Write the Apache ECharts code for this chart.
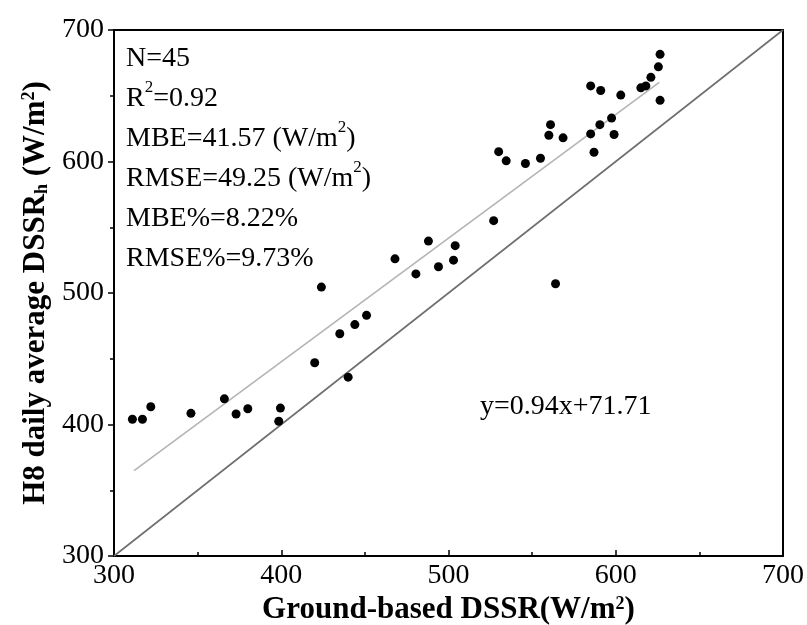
<!DOCTYPE html>
<html>
<head>
<meta charset="utf-8">
<script src="https://cdn.jsdelivr.net/npm/echarts@6/dist/echarts.min.js"></script>
<style>html,body{margin:0;padding:0;background:#fff;}#c{width:807px;height:625px;}</style>
</head>
<body>
<div id="c"></div>
<script>
var groundX = [311, 317, 322, 346, 366, 373, 380, 398.5, 399.5, 420, 424, 435, 440, 444, 451, 468, 480.5, 488, 494, 503, 504, 527, 530, 534.5, 546, 555, 561, 560, 564, 568.5, 585, 585, 587, 590.5, 591, 597.5, 599, 603, 615, 618, 621, 625.5, 626.5, 626.5];
var h8Y = [404, 404, 413.5, 408.5, 419.5, 408, 412, 402.5, 412.5, 447, 504.5, 469, 436, 476, 483, 526, 514.5, 539.5, 520, 525, 536, 555, 607.5, 600.5, 598.5, 602.5, 628, 620, 507, 618, 657.5, 621, 607, 628, 654, 633, 620.5, 650.5, 656, 657.5, 664, 672, 681.5, 646.5];
var fitSlope = 0.94, fitIntercept = 71.71;
var fitRange = [312, 626];
var oneToOne = [300, 700];
var axisTicks = [300, 400, 500, 600, 700];
var statsLines = ['N=45', 'R{sup|2}=0.92', 'MBE=41.57 (W/m{sup|2})', 'RMSE=49.25 (W/m{sup|2})', 'MBE%=8.22%', 'RMSE%=9.73%'];
var eqText = 'y=0.94x+71.71';

var pts = groundX.map(function (x, i) { return [x, h8Y[i]]; });
var fitData = fitRange.map(function (x) { return [x, fitSlope * x + fitIntercept]; });
var lineData = oneToOne.map(function (v) { return [v, v]; });

var FONT = '"Liberation Serif", "Times New Roman", serif';
var chart = echarts.init(document.getElementById('c'), null, {renderer: 'canvas'});

var TITLE = 31;
var axisCommon = {
  type: 'value', min: 300, max: 700, interval: 100,
  axisLine: {show: true, onZero: false, lineStyle: {color: '#000', width: 2}},
  splitLine: {show: false},
  axisLabel: {color: '#000', fontFamily: FONT, fontSize: 28},
  nameLocation: 'middle',
  nameTextStyle: {color: '#000', fontFamily: FONT, fontSize: TITLE, fontWeight: 'bold',
    rich: {
      sup: {fontSize: 18, fontWeight: 'bold', fontFamily: FONT, color: '#000', verticalAlign: 'top', padding: [0, 0, 10, 0]},
      sub: {fontSize: 18, fontWeight: 'bold', fontFamily: FONT, color: '#000', verticalAlign: 'bottom', padding: [8, 0, 0, 0]},
      b: {fontSize: TITLE, fontWeight: 'bold', fontFamily: FONT, color: '#000'}
    }
  }
};

var statsText = statsLines.join('\n');

chart.setOption({
  animation: false,
  backgroundColor: '#fff',
  grid: {left: 114, right: 24, top: 30, bottom: 69, show: false, containLabel: false, outerBoundsMode: 'none'},
  xAxis: [
    Object.assign({}, axisCommon, {
      position: 'bottom',
      name: '{b|Ground-based DSSR(W/m}{sup|2}{b|)}',
      nameGap: 37,
      axisTick: {show: true, inside: true, length: 6, lineStyle: {color: '#000', width: 1.5}},
      minorTick: {show: true, splitNumber: 2, length: 4, lineStyle: {color: '#000', width: 1.5}},
      axisLabel: {color: '#000', fontFamily: FONT, fontSize: 28, margin: 6}
    }),
    {type: 'value', position: 'top', min: 300, max: 700, axisLine: {show: true, onZero: false, lineStyle: {color: '#000', width: 2}},
     axisTick: {show: false}, axisLabel: {show: false}, splitLine: {show: false}}
  ],
  yAxis: [
    Object.assign({}, axisCommon, {
      position: 'left',
      name: '{b|H8 daily average DSSR}{sub|h}{b| (W/m}{sup|2}{b|)}',
      nameGap: 62,
      nameRotate: 90,
      axisTick: {show: true, inside: false, length: 6, lineStyle: {color: '#000', width: 1.5}},
      minorTick: {show: true, splitNumber: 2, length: 4, lineStyle: {color: '#000', width: 1.5}},
      axisLabel: {color: '#000', fontFamily: FONT, fontSize: 28, margin: 10}
    }),
    {type: 'value', position: 'right', min: 300, max: 700, axisLine: {show: true, onZero: false, lineStyle: {color: '#000', width: 2}},
     axisTick: {show: false}, axisLabel: {show: false}, splitLine: {show: false}}
  ],
  series: [
    {type: 'line', data: lineData, symbol: 'none', lineStyle: {color: '#6e6e6e', width: 1.6}, z: 1, silent: true},
    {type: 'line', data: fitData, symbol: 'none', lineStyle: {color: '#b4b4b4', width: 1.6}, z: 2, silent: true},
    {type: 'scatter', data: pts, symbol: 'circle', symbolSize: 9, itemStyle: {color: '#000', opacity: 1}, z: 5}
  ],
  graphic: [
    {type: 'text', left: 126, top: 39, z: 10,
     style: {text: statsText, fontFamily: FONT, fontSize: 28, lineHeight: 40, fill: '#000',
       rich: {sup: {fontSize: 17, fontFamily: FONT, fill: '#000', verticalAlign: 'top', lineHeight: 40, padding: [0, 0, 10, 0]}}}},
    {type: 'text', left: 480, top: 393, z: 10,
     style: {text: eqText, fontFamily: FONT, fontSize: 28, fill: '#000'}}
  ]
});
</script>
</body>
</html>
